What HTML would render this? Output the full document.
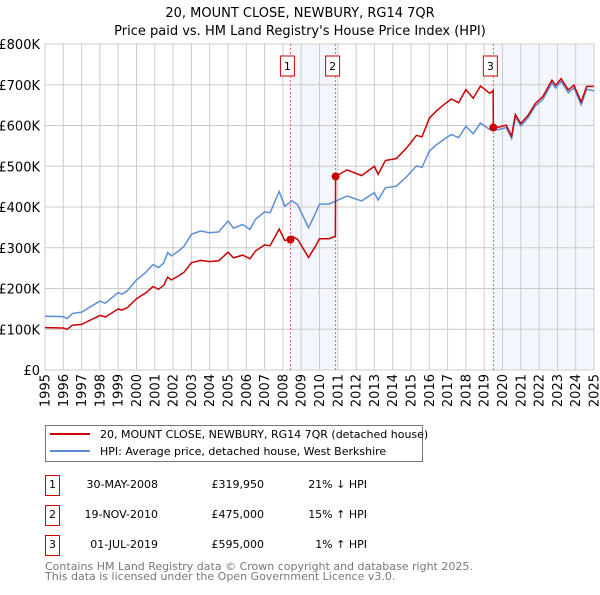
<!DOCTYPE html>
<html><head><meta charset="utf-8"><style>
body{margin:0;background:#fff;font-family:"Liberation Sans","DejaVu Sans",sans-serif}
svg text{font-family:"DejaVu Sans","Liberation Sans",sans-serif}
</style></head><body>
<svg id="c" width="600" height="590" viewBox="0 0 600 590"></svg>
<script>
const hpiYears=[1995,1996,1996.2,1996.5,1997,1998,1998.3,1999,1999.2,1999.5,2000,2000.5,2000.9,2001.2,2001.5,2001.7,2001.9,2002.3,2002.6,2003,2003.5,2004,2004.5,2005,2005.3,2005.8,2006.2,2006.5,2007,2007.3,2007.8,2008.1,2008.5,2008.8,2009.1,2009.4,2009.8,2010,2010.5,2010.9,2011.5,2012.3,2013,2013.2,2013.6,2014.2,2014.8,2015.3,2015.6,2016,2016.4,2016.8,2017.2,2017.6,2018,2018.4,2018.8,2019.3,2019.8,2020.2,2020.5,2020.7,2021,2021.4,2021.8,2022.2,2022.7,2022.9,2023.2,2023.6,2023.9,2024.3,2024.6,2025];
const hpiValues=[132,131,126,139,142,169,164,190,186,194,221,239,259,251,263,288,280,292,304,333,341,337,339,366,348,357,345,370,388,386,438,402,415,406,378,349,386,407,407,415,427,415,435,417,447,451,476,501,497,537,553,566,578,570,598,580,606,590,590,595,568,621,599,619,648,664,704,692,708,680,692,651,689,685];
const redYears=[1995,1996,1996.2,1996.5,1997,1998,1998.3,1999,1999.2,1999.5,2000,2000.5,2000.9,2001.2,2001.5,2001.7,2001.9,2002.3,2002.6,2003,2003.5,2004,2004.5,2005,2005.3,2005.8,2006.2,2006.5,2007,2007.3,2007.8,2008.1,2008.41,2008.5,2008.8,2009.1,2009.4,2009.8,2010,2010.5,2010.87,2010.88,2011.5,2012.3,2013,2013.2,2013.6,2014.2,2014.8,2015.3,2015.6,2016,2016.4,2016.8,2017.2,2017.6,2018,2018.4,2018.8,2019.3,2019.49,2019.5,2019.8,2020.2,2020.5,2020.7,2021,2021.4,2021.8,2022.2,2022.7,2022.9,2023.2,2023.6,2023.9,2024.3,2024.6,2025];
const redValues=[104,103,100,110,112,134,130,150,147,153,175,189,205,198,208,228,221,231,240,263,269,266,268,289,275,282,273,292,307,305,346,318,320,328,321,299,276,305,322,322,328,475,491,477,500,480,514,519,547,576,572,618,636,651,665,656,688,667,697,679,686,595,596,601,574,627,605,625,654,671,711,699,715,687,699,658,696,696];
const saleYears=[2008.41,2010.88,2019.5];
const saleValues=[319.95,475,595];
const saleLabels=["1","2","3"];
const yTicks=[0,100,200,300,400,500,600,700,800];
const yTickLabels=["£0","£100K","£200K","£300K","£400K","£500K","£600K","£700K","£800K"];
const xTicks=[1995,1996,1997,1998,1999,2000,2001,2002,2003,2004,2005,2006,2007,2008,2009,2010,2011,2012,2013,2014,2015,2016,2017,2018,2019,2020,2021,2022,2023,2024,2025];

const NS="http://www.w3.org/2000/svg";
const svg=document.getElementById('c');
const L=45,R=594,T=44,B=370;
const X=y=>L+(y-1995)/30*(R-L);
const Y=v=>B-v/800*(B-T);
function mk(tag,attrs,parent){const e=document.createElementNS(NS,tag);for(const k in attrs)e.setAttribute(k,attrs[k]);(parent||svg).appendChild(e);return e;}

let t=mk('text',{x:300,y:17,'text-anchor':'middle','font-size':13});t.textContent='20, MOUNT CLOSE, NEWBURY, RG14 7QR';


t=mk('text',{x:300,y:35,'text-anchor':'middle','font-size':13});t.textContent="Price paid vs. HM Land Registry's House Price Index (HPI)";



let s=mk('rect',{x:X(saleYears[0]),y:T,width:X(saleYears[1])-X(saleYears[0]),height:B-T,fill:'#eef3fc',opacity:0.7});


s=mk('rect',{x:X(saleYears[2]),y:T,width:R-X(saleYears[2]),height:B-T,fill:'#eef3fc',opacity:0.7});



yTicks.forEach((v,i)=>{
  const g=mk('line',{x1:L,x2:R,y1:Y(v),y2:Y(v),stroke:'#ccc','stroke-width':1});
  
  
  const tx=mk('text',{x:40,y:Y(v)+5,'text-anchor':'end','font-size':13});tx.textContent=yTickLabels[i];
  
  
});
xTicks.forEach(y=>{
  const g=mk('line',{x1:X(y),x2:X(y),y1:T,y2:B,stroke:'#ccc','stroke-width':1});
  
  
  const tx=mk('text',{x:0,y:0,'text-anchor':'end','font-size':13,transform:`translate(${X(y)+4.5},374) rotate(-90)`});tx.textContent=y;
  
  
});
const fr=mk('rect',{x:L,y:T,width:R-L,height:B-T,fill:'none',stroke:'#ccc'});



saleYears.forEach((y,i)=>{
  const l=mk('line',{x1:X(y),x2:X(y),y1:T,y2:B,stroke:'#e06060','stroke-width':1,'stroke-dasharray':'2,2'});
  
  
  const b=mk('rect',{x:X(y)-10,y:56,width:14,height:20,fill:'#fff',stroke:'#c00'});
  
  
  const tx=mk('text',{x:X(y)-3,y:70,'text-anchor':'middle','font-size':11});tx.textContent=saleLabels[i];
  
  
});

function path(xs,vs){return xs.map((y,i)=>(i?'L':'M')+X(y).toFixed(1)+','+Y(vs[i]).toFixed(1)).join('');}
const hp=mk('path',{d:path(hpiYears,hpiValues),fill:'none',stroke:'#5b8fd4','stroke-width':1.5});


const rp=mk('path',{d:path(redYears,redValues),fill:'none',stroke:'#cc0000','stroke-width':1.5});


saleYears.forEach((y,i)=>{
  const c=mk('circle',{cx:X(y),cy:Y(saleValues[i]),r:4,fill:'#cc0000'});
  
  
});

const lg=mk('g',{});


mk('rect',{x:45.5,y:425.5,width:377,height:36,fill:'#fff',stroke:'#777'},lg);
mk('line',{x1:50,x2:90,y1:434,y2:434,stroke:'#cc0000','stroke-width':2},lg);
mk('line',{x1:50,x2:90,y1:451,y2:451,stroke:'#5b8fd4','stroke-width':2},lg);
t=mk('text',{x:100,y:438,'font-size':11},lg);t.textContent='20, MOUNT CLOSE, NEWBURY, RG14 7QR (detached house)';


t=mk('text',{x:100,y:455,'font-size':11},lg);t.textContent='HPI: Average price, detached house, West Berkshire';



const rows=[["1","30-MAY-2008","£319,950","21% ↓ HPI"],["2","19-NOV-2010","£475,000","15% ↑ HPI"],["3","01-JUL-2019","£595,000","1% ↑ HPI"]];
rows.forEach((r,i)=>{
  const y=496+i*30;
  const g=mk('g',{});
  
  
  mk('rect',{x:45.5,y:y-20.5,width:14,height:20,fill:'#fff',stroke:'#c00'},g);
  let a=mk('text',{x:52.5,y:y-8,'text-anchor':'middle','font-size':11},g);a.textContent=r[0];
  a=mk('text',{x:158,y:y-8,'text-anchor':'end','font-size':11},g);a.textContent=r[1];
  a=mk('text',{x:264,y:y-8,'text-anchor':'end','font-size':11},g);a.textContent=r[2];
  a=mk('text',{x:367,y:y-8,'text-anchor':'end','font-size':11},g);a.textContent=r[3];
});
t=mk('text',{x:45,y:570,'font-size':11,fill:'#777'});t.textContent='Contains HM Land Registry data © Crown copyright and database right 2025.';


t=mk('text',{x:45,y:580,'font-size':11,fill:'#777'});t.textContent='This data is licensed under the Open Government Licence v3.0.';


</script>
</body></html>
